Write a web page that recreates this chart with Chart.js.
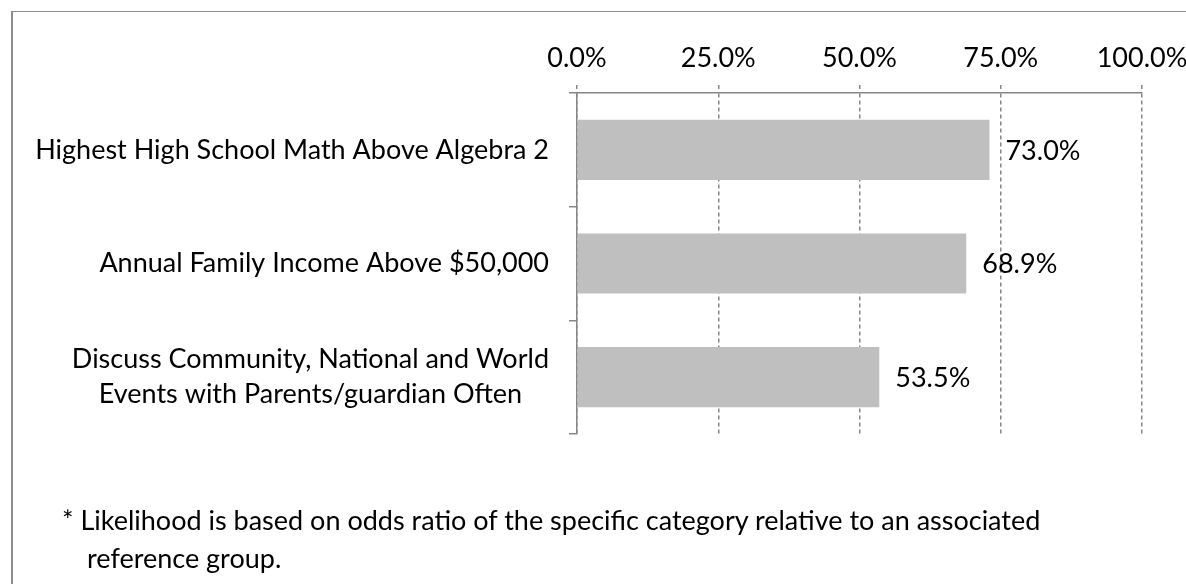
<!DOCTYPE html>
<html>
<head>
<meta charset="utf-8">
<script src="https://cdn.jsdelivr.net/npm/chart.js@4"></script>
<style>
  html, body { margin: 0; padding: 0; background: #fff; }
  #wrap { position: relative; width: 1186px; height: 584px; overflow: hidden; }
  #frame { position: absolute; left: 11px; top: 11px; width: 1200px; height: 600px;
           border-left: 2px solid #8c8c8c; border-top: 1px solid #8c8c8c; }
  #chart { position: absolute; left: 0; top: 0; }
  #note { position: absolute; left: 62px; top: 501px; color: #000; line-height: 38px; white-space: pre; }
  #note .l2 { padding-left: 25px; }
</style>
</head>
<body>
<div id="wrap">
  <div id="frame"></div>
  <canvas id="chart" width="1186" height="584"></canvas>
  <div id="note"></div>
</div>
<script>
// ── Data ──────────────────────────────────────────────────────────────────────
const categories = [
  ['Highest High School Math Above Algebra 2'],
  ['Annual Family Income Above $50,000'],
  ['Discuss Community, National and World', 'Events with Parents/guardian Often'],
];
const values = [73.0, 68.9, 53.5];
const xTicks = [0, 25, 50, 75, 100];
const footnote = [
  '* Likelihood is based on odds ratio of the specific category relative to an associated',
  'reference group.',
];

// ── Style ─────────────────────────────────────────────────────────────────────
const FAMILY = 'Lato, sans-serif';
const GRID = '#868686';
const BAR = '#bfbfbf';

// Calibri stand-in: size the font so the footnote spans the same width as the original
const _m = document.createElement('canvas').getContext('2d');
_m.font = '100px ' + FAMILY;
const FS = Math.round(986 / _m.measureText(footnote[0]).width * 100 * 2) / 2;

const note = document.getElementById('note');
note.style.fontFamily = FAMILY;
note.style.fontSize = FS + 'px';
note.innerHTML = footnote.map((t, i) => `<div class="l${i + 1}">${t}</div>`).join('');

// category labels: block right-aligned, lines centred on each other (like Excel)
const yLabelsPlugin = {
  id: 'yLabels',
  afterDraw(chart) {
    const { ctx, scales: { y } } = chart;
    const right = 549, lineH = 35;
    ctx.save();
    ctx.font = `${FS}px ${FAMILY}`;
    ctx.fillStyle = '#000';
    ctx.textAlign = 'center';
    ctx.textBaseline = 'middle';
    categories.forEach((lines, i) => {
      const yc = y.getPixelForValue(i);
      const w = Math.max(...lines.map(l => ctx.measureText(l).width));
      const cx = right - w / 2;
      lines.forEach((l, j) => ctx.fillText(l, cx, yc + (j - (lines.length - 1) / 2) * lineH));
    });
    ctx.restore();
  },
};

const valueLabelsPlugin = {
  id: 'valueLabels',
  afterDatasetsDraw(chart) {
    const { ctx } = chart;
    const meta = chart.getDatasetMeta(0);
    ctx.save();
    ctx.font = `${FS}px ${FAMILY}`;
    ctx.fillStyle = '#000';
    ctx.textAlign = 'left';
    ctx.textBaseline = 'middle';
    meta.data.forEach((bar, i) => ctx.fillText(values[i].toFixed(1) + '%', bar.x + 16, bar.y + 1));
    ctx.restore();
  },
};

new Chart(document.getElementById('chart'), {
  type: 'bar',
  data: {
    labels: categories.map(c => c.join(' ')),
    datasets: [{ data: values, backgroundColor: BAR, barPercentage: 0.53, categoryPercentage: 1 }],
  },
  options: {
    indexAxis: 'y',
    responsive: false,
    animation: false,
    events: [],
    layout: { padding: { left: 0, right: 44, top: 0, bottom: 150 } },
    plugins: { legend: { display: false }, tooltip: { enabled: false } },
    scales: {
      x: {
        position: 'top',
        min: 0,
        max: 100,
        afterFit: s => { s.height = 93; s.paddingLeft = 0; s.paddingRight = 0; },
        afterBuildTicks: s => { s.ticks = xTicks.map(v => ({ value: v })); },
        ticks: {
          callback: v => v.toFixed(1) + '%',
          color: '#000',
          font: { family: FAMILY, size: FS },
          padding: 11,
          maxRotation: 0,
          autoSkip: false,
        },
        grid: { color: GRID, lineWidth: 1.5, tickLength: 8, tickBorderDash: [4, 3] },
        border: { color: GRID, width: 1.5, dash: [4, 3] },
      },
      y: {
        afterFit: s => { s.width = 577; },
        ticks: { display: false },
        grid: { drawOnChartArea: false, color: GRID, lineWidth: 1.5, tickLength: 8 },
        border: { color: GRID, width: 1.5 },
      },
    },
  },
  plugins: [yLabelsPlugin, valueLabelsPlugin],
});
</script>
</body>
</html>
